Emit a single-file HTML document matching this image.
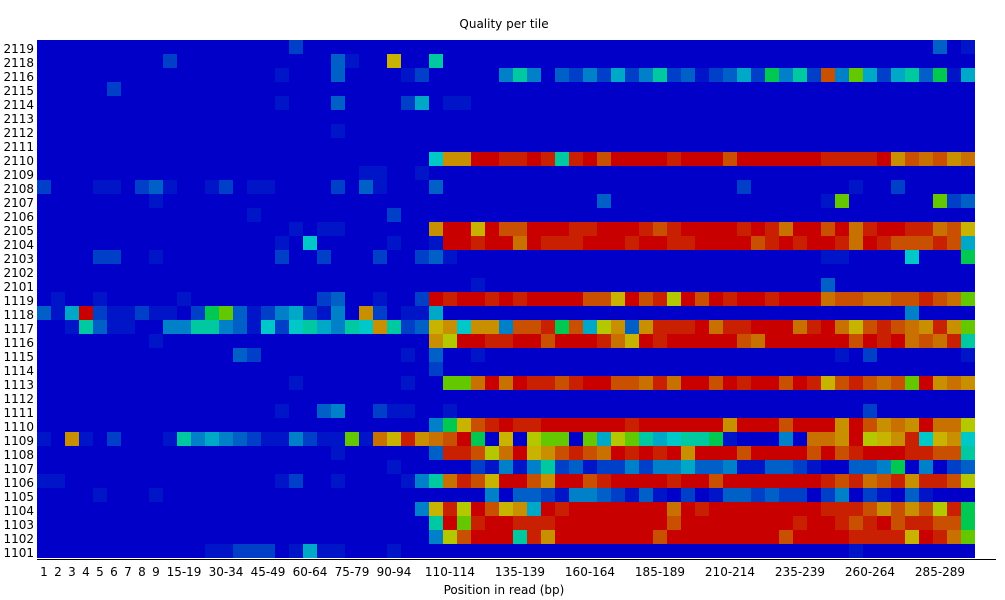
<!DOCTYPE html>
<html><head><meta charset="utf-8"><style>
html,body{margin:0;padding:0;background:#fff;}
svg{display:block;}
text{font-family:"DejaVu Sans","Liberation Sans",sans-serif;font-size:12px;fill:#000;}
</style></head><body>
<svg id="s" width="1005" height="600" xmlns="http://www.w3.org/2000/svg">
<g id="cells"></g>
<line x1="37" y1="559.5" x2="996" y2="559.5" stroke="#000" stroke-width="1"/>
<text x="504" y="28" text-anchor="middle">Quality per tile</text>
<text x="504" y="594" text-anchor="middle">Position in read (bp)</text>
<g text-anchor="end">
<text x="34" y="53">2119</text><text x="34" y="67">2118</text><text x="34" y="81">2116</text><text x="34" y="95">2115</text><text x="34" y="109">2114</text><text x="34" y="123">2113</text><text x="34" y="137">2112</text><text x="34" y="151">2111</text><text x="34" y="165">2110</text><text x="34" y="179">2109</text><text x="34" y="193">2108</text><text x="34" y="207">2107</text><text x="34" y="221">2106</text><text x="34" y="235">2105</text><text x="34" y="249">2104</text><text x="34" y="263">2103</text><text x="34" y="277">2102</text><text x="34" y="291">2101</text><text x="34" y="305">1119</text><text x="34" y="319">1118</text><text x="34" y="333">1117</text><text x="34" y="347">1116</text><text x="34" y="361">1115</text><text x="34" y="375">1114</text><text x="34" y="389">1113</text><text x="34" y="403">1112</text><text x="34" y="417">1111</text><text x="34" y="431">1110</text><text x="34" y="445">1109</text><text x="34" y="459">1108</text><text x="34" y="473">1107</text><text x="34" y="487">1106</text><text x="34" y="501">1105</text><text x="34" y="515">1104</text><text x="34" y="529">1103</text><text x="34" y="543">1102</text><text x="34" y="557">1101</text>
</g>
<g text-anchor="middle">
<text x="44" y="576">1</text><text x="58" y="576">2</text><text x="72" y="576">3</text><text x="86" y="576">4</text><text x="100" y="576">5</text><text x="114" y="576">6</text><text x="128" y="576">7</text><text x="142" y="576">8</text><text x="156" y="576">9</text>
<text x="184" y="576">15-19</text><text x="226" y="576">30-34</text><text x="268" y="576">45-49</text><text x="310" y="576">60-64</text><text x="352" y="576">75-79</text><text x="394" y="576">90-94</text>
<text x="450" y="576">110-114</text><text x="520" y="576">135-139</text><text x="590" y="576">160-164</text><text x="660" y="576">185-189</text><text x="730" y="576">210-214</text><text x="800" y="576">235-239</text><text x="870" y="576">260-264</text><text x="940" y="576">285-289</text>
</g>
</svg>
<script>
var C={B:'#0000c8',b:'#0014c8',m:'#0040c8',n:'#0060c8',l:'#0080c8',c:'#00a8c8',C:'#00c8c8',t:'#00c8a0',G:'#00c850',g:'#64c800',y:'#b4c800',Y:'#c8b400',o:'#c89000',O:'#c87000',P:'#c85000',r:'#c82000',R:'#c80000'};
var right={2:"BBBBBltlBnmlmcmltmnbmncmGltmPlgcmctnGbc",
8:"CooRRrrRrtrRPRRRRrRRRPRRRRRRrrrrRoPOPoO",
13:"oRRYRPPRRRrrRRRrPrRRRRrRrORRPROrRRrrOPY",
14:"bRRrRRORrrrRRRrRRrrRRRRPrRrRRrORrPPPrPc",
18:"RrRRrRrRRRRPPYRPryRPRrRRrRRROPPOOPPrPOg",
20:"YoCoolPPrGPcyonorrrROrrRRROrROYPrPOorog",
21:"oyRRrrRRPRRRrOYRrRRRRRPORRRRRRPRrROPOrt",
24:"BggORORrrPrRRPPOrORRPRrRRPRrYPrPOPgRoOo",
27:"lGYPrRrrRRRRRRrRRRRRRoRRRPRRRoRPoOoROOy",
28:"OPRGBYByggBgcygtcCttGbBBBlBOOoRyYorCYoC",
29:"nrrPyORYoPrPORrRrRoRRRPRRRRPRPrRRRrrPPt",
30:"BBBmblbltmnbmmlmllcnnlbbnnmbBBnnlGBlBmn",
31:"tOrPYRRPoRRPrRRRRrRRPRRRRRRRrPrOProrrPy",
32:"BBBBlBnnmbllnmbnbBmBbnnmnmmBmlBmbBnbBBB",
33:"YryRPYocRrRRRRRRRORrRRRRRRRRrrrPoPoPyrG",
34:"tRgrRRrrrRRRRRRRRPRRRRRRRRrRRrPrRPrrPPG",
35:"lyPRRRtroRRRRRRRPRRRRRRRRPRRRRrrrrYRrOg"};
var sp={0:"18m,64n,66b",1:"9m,21n,22b,25Y,28t",2:"17b,21n,26b,27m",3:"5m",4:"17b,21n,26m,27c,29b,30b",6:"21b",9:"23b,24b,27b",
10:"0m,4b,5b,7m,8n,9b,12b,13m,15b,16b,21m,23n,24b,28n,50m,58b,61m",11:"8b,40n,56b,57g,64g,65m,66n",12:"15b,25m",13:"18b,20b,21b",14:"17b,19C,25b",
15:"4m,5m,8b,17m,20m,24m,27m,28n,29b,56b,57b,62C,66G",17:"31b,56n",18:"1b,4b,10b,20m,21n,24b,27m",
19:"0n,1b,2c,3R,4m,5b,6b,7m,8b,9b,11m,12G,13g,14n,15b,16m,17l,18c,19m,20b,21l,23o,24m,26b,27b,28c,62l",
20:"2b,3t,4n,5b,6b,9l,10l,11t,12t,13l,14n,15b,16C,17m,18C,19t,20c,21l,22t,23C,24o,25t,26m,27n",
21:"8b",22:"14n,15m,26b,28n,31b,57b,59m,66b",23:"28m",24:"18b,26b",26:"17b,20n,21l,24m,25b,26b,29b,59m",
28:"0b,2o,3b,5m,9b,10t,11l,12c,13l,14n,15m,16b,17b,18l,19m,20b,21b,22g,23b,24O,25Y,26r,27o",
29:"21b",30:"25b",31:"0b,1b,17b,18m,21b,26b,27l",32:"4b,8b",33:"27l",
36:"12b,13b,14m,15m,16m,18b,19c,20b,21b,25b,58b"};
var h='<rect x="37" y="40" width="938" height="518" fill="#0000c8"/>';
for(var r=0;r<37;r++){
 var row=[];for(var k=0;k<67;k++)row.push('B');
 if(right[r]){for(var k=0;k<39;k++)row[28+k]=right[r][k];}
 if(sp[r]){sp[r].split(',').forEach(function(e){var c=parseInt(e);row[c]=e.slice(-1);});}
 for(var k=0;k<67;k++){if(row[k]!='B')h+='<rect x="'+(37+14*k)+'" y="'+(40+14*r)+'" width="14" height="14" fill="'+C[row[k]]+'"/>';}
}
document.getElementById('cells').innerHTML=h;
</script>
</body></html>
